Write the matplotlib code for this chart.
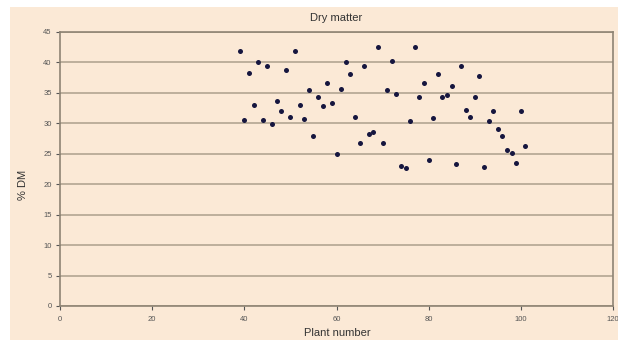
import matplotlib
matplotlib.use('Agg')
import matplotlib.pyplot as plt
from matplotlib.patches import Rectangle

plt.rcParams['font.family'] = ['Liberation Sans', 'DejaVu Sans']

# plant number and % dry matter
plant = list(range(39, 102))
dm = [41.9, 30.5, 38.3, 33.0, 40.1, 30.5, 39.4, 29.9, 33.6, 32.1,
      38.7, 31.0, 41.8, 33.0, 30.7, 35.4, 27.9, 34.3, 32.8, 36.6,
      33.3, 25.0, 35.7, 40.1, 38.1, 31.0, 26.8, 39.4, 28.2, 28.6,
      42.5, 26.8, 35.4, 40.3, 34.8, 23.0, 22.7, 30.4, 42.5, 34.3,
      36.7, 23.9, 30.8, 38.1, 34.3, 34.7, 36.2, 23.3, 39.4, 32.2,
      31.1, 34.4, 37.8, 22.8, 30.4, 32.0, 29.1, 28.0, 25.7, 25.2,
      23.5, 32.0, 26.2]

xticks = [0, 20, 40, 60, 80, 100, 120]
yticks = [0, 5, 10, 15, 20, 25, 30, 35, 40, 45]

peach = '#fbe9d6'
grid = '#b8aa97'
W, H = 618, 340

fig = plt.figure(figsize=(6.18, 3.40), dpi=100)
fig.patch.set_facecolor('white')
# chart area background, kept behind the axes
fig.patches.append(Rectangle((10 / W, 0), 1, 333 / H, transform=fig.transFigure,
                             facecolor=peach, edgecolor='none', zorder=-5))

ax = fig.add_axes([60 / W, 34 / H, 553 / W, 274 / H])
ax.set_zorder(2)
ax.set_facecolor(peach)
ax.scatter(plant, dm, s=13, color='#16163f', marker='o', zorder=3, linewidths=0)

ax.set_xlim(0, 120)
ax.set_ylim(0, 45)
ax.set_xticks(xticks)
ax.set_yticks(yticks)
ax.yaxis.grid(True, color=grid, lw=1.3)
ax.set_axisbelow(True)
for s in ax.spines.values():
    s.set_color('#8e8474')
    s.set_linewidth(1.2)
ax.tick_params(labelsize=5.5, colors='#555555', length=3, width=0.8)
ax.tick_params(axis='x', pad=4)
ax.tick_params(axis='y', pad=3)

fig.text(336 / W, 1 - 18 / H, 'Dry matter', ha='center', va='center',
         fontsize=8, color='#333333', zorder=3)
fig.text(337 / W, 1 - 333 / H, 'Plant number', ha='center', va='center',
         fontsize=8, color='#333333', zorder=3)
fig.text(23 / W, 1 - 185 / H, '% DM', ha='center', va='center', rotation=90,
         fontsize=8, color='#333333', zorder=3)

fig.savefig('out.png', dpi=100)
